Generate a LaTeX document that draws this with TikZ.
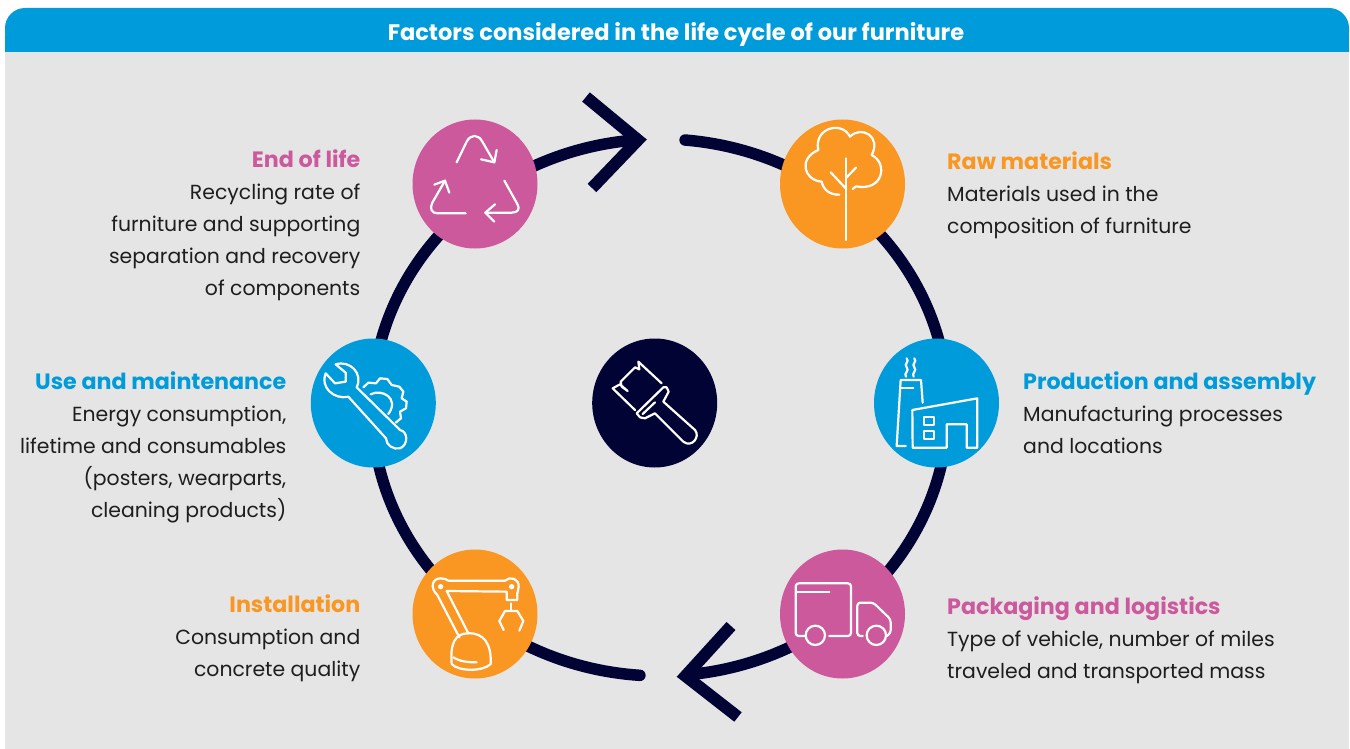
\documentclass[tikz,border=0pt]{standalone}
\usepackage{fontspec}
\setmainfont{Poppins}
\usetikzlibrary{shapes.geometric}
\definecolor{panelgray}{HTML}{E5E5E5}
\definecolor{titleblue}{HTML}{009BDA}
\definecolor{factororange}{HTML}{FA9722}
\definecolor{factorpink}{HTML}{CD599D}
\definecolor{ringnavy}{HTML}{000333}
\definecolor{bodytext}{HTML}{1E1E1E}
\newcommand{\factorhead}[2]{{\color{#1}\fontsize{22.2}{32}\selectfont\bfseries #2}}
\tikzset{
  stage/.style={ellipse,fill=#1,minimum width=125,minimum height=129,inner sep=0},
  ring/.style={ringnavy,line width=11.5},
  icon/.style={white,line width=2.2,line cap=round,line join=round},
  iconat/.style 2 args={shift={(#1,#2)},scale=1/3},
  factor/.style={inner sep=0,text=bodytext,anchor=north west,align=left,font=\fontsize{20.4}{32}\selectfont},
  factorr/.style={factor,anchor=north east,align=right}
}
\begin{document}
\begin{tikzpicture}[x=1pt,y=-1pt,line join=round]
    \useasboundingbox (0,0) rectangle (1350,749);
    \fill[panelgray] (5,30) rectangle (1349,749);
    \fill[titleblue,rounded corners=20] (5,52) -- (5,8) -- (1349,8) -- (1349,52) -- cycle;
    \fill[titleblue] (5,35) rectangle (1349,52);
    \node[text=white,font=\fontsize{22.5}{26}\selectfont\bfseries] (title) at (676,34) {Factors considered in the life cycle of our furniture};

    \draw[ring,line cap=round] plot[domain=-85:84,samples=120,smooth] ({660+288*cos(\x)},{407.5+268.5*sin(\x)});
    \draw[ring,line cap=round] plot[domain=94:265,samples=120,smooth] ({660+288*cos(\x)},{407.5+268.5*sin(\x)});
    \coordinate (topbarbup) at (586,97);
    \coordinate (toptip) at (638,140);
    \coordinate (topbarbdown) at (592,188);
    \coordinate (botbarbup) at (731,626);
    \coordinate (bottip) at (685.5,676);
    \coordinate (botbarbdown) at (738,717);
    \draw[ring,line width=12,line join=miter] (topbarbup) -- (toptip) -- (topbarbdown);
    \draw[ring,line width=12,line join=miter] (botbarbup) -- (bottip) -- (botbarbdown);

    \node[stage=factorpink] (endlife) at (475,184) {};
    \node[stage=factororange] (rawmat) at (842.5,184) {};
    \node[stage=titleblue] (prod) at (936.5,403) {};
    \node[stage=factorpink] (pack) at (842.5,614) {};
    \node[stage=factororange] (install) at (475,614) {};
    \node[stage=titleblue] (usemaint) at (373.3,403) {};
    \node[stage=ringnavy] (brush) at (654.7,403) {};

    \node[factor] (rawtext) at (947,152) {\factorhead{factororange}{Raw materials}\\Materials used in the\\composition of furniture};
    \node[factor] (prodtext) at (1023,372) {\factorhead{titleblue}{Production and assembly}\\Manufacturing processes\\and locations};
    \node[factor] (packtext) at (947,597) {\factorhead{factorpink}{Packaging and logistics}\\Type of vehicle, number of miles\\traveled and transported mass};
    \node[factorr] (endtext) at (360.5,150) {\factorhead{factorpink}{End of life}\\Recycling rate of\\furniture and supporting\\separation and recovery\\of components};
    \node[factorr] (usetext) at (286.5,372) {\factorhead{titleblue}{Use and maintenance}\\Energy consumption,\\lifetime and consumables\\(posters, wearparts,\\cleaning products)};
    \node[factorr] (insttext) at (360.5,595) {\factorhead{factororange}{Installation}\\Consumption and\\concrete quality};

    % recycling
    \begin{scope}[iconat={400}{80},icon]
        \draw (170,247) -- (200,185) .. controls (212,162) and (235,162) .. (247,185) -- (283,247);
        \draw (290,210) -- (283,247) -- (243,238);
        \draw (148,338) -- (135,302) -- (103,314);
        \draw (135,302) -- (97,368) .. controls (88,385) and (95,400) .. (112,400) -- (197,400);
        \draw (313,302) -- (352,372) .. controls (362,388) and (352,398) .. (335,398) -- (256,398);
        \draw (285,373) -- (256,398) -- (283,425);
    \end{scope}
    % tree
    \begin{scope}[iconat={770}{115},icon]
        \draw (229,130) -- (229,375);
        \draw (182,172) -- (229,222);
        \draw (258,158) -- (229,188);
        \draw (208,239) .. controls (180,240) and (160,225) .. (155,200)
              .. controls (100,195) and (85,130) .. (145,105)
              .. controls (130,40) and (215,15) .. (240,65)
              .. controls (275,30) and (335,65) .. (305,120)
              .. controls (355,145) and (340,230) .. (258,214) -- (248,222);
    \end{scope}
    % factory
    \begin{scope}[iconat={860}{330},icon]
        \draw (137,348) -- (110,348) -- (122,150) -- (183,150) -- (188,218);
        \draw (125,175) -- (160,175);
        \draw (140,85) .. controls (150,95) and (130,102) .. (140,112) .. controls (150,122) and (130,130) .. (138,140);
        \draw (163,85) .. controls (173,95) and (153,102) .. (163,112) .. controls (173,122) and (153,130) .. (161,140);
        \draw (157,240) -- (352,205) -- (352,353) -- (320,353) -- (320,283) -- (260,283) -- (260,353) -- (158,353) -- cycle;
        \draw (192,262) rectangle (222,284);
        \draw (192,302) rectangle (222,328);
    \end{scope}
    % truck
    \begin{scope}[iconat={670}{540},icon]
        \draw[rounded corners=3] (405,288) -- (377,288) -- (377,130) -- (543,130) -- (543,288) -- (478,288);
        \draw (380,157) -- (478,157);
        \draw (436,286) circle (29);
        \draw (619,286) circle (29);
        \draw[rounded corners=3] (578,288) -- (562,288) -- (562,188) -- (610,188) -- (662,238) -- (662,280) -- (650,288);
    \end{scope}
    % robot arm
    \begin{scope}[iconat={400}{540},icon]
        \draw (155,372) .. controls (150,310) and (165,280) .. (205,280) .. controls (250,278) and (275,310) .. (272,372) .. controls (250,395) and (175,395) .. (155,372) -- cycle;
        \draw (160,352) .. controls (180,365) and (205,367) .. (230,367);
        \draw (178,292) -- (112,165) .. controls (90,145) and (95,115) .. (122,115) .. controls (132,115) and (140,118) .. (145,122) -- (315,122) .. controls (330,108) and (357,115) .. (356,140) .. controls (356,150) and (352,157) .. (352,160) -- (352,180) -- (320,180) -- (320,155) -- (140,153) -- (205,280);
        \fill[white] (122,140) circle (8);
        \fill[white] (335,140) circle (8);
        \draw (333,190) -- (333,213);
        \draw (311,270) -- (298,243) -- (315,213) -- (352,213) -- (370,243) -- (358,272);
    \end{scope}
    % wrench and gear
    \begin{scope}[iconat={300}{330},icon]
        \draw (107,103) .. controls (150,90) and (190,130) .. (170,172) -- (300,300) .. controls (325,305) and (325,345) .. (300,355) .. controls (280,360) and (258,345) .. (258,325) -- (145,200) .. controls (100,210) and (60,170) .. (77,130) -- (105,160) -- (137,155) -- (137,128) -- cycle;
        \draw (190,172) -- (205,158) -- (228,160) -- (240,145) -- (262,147) -- (275,165) -- (298,170) -- (310,185) -- (305,205) -- (320,215) -- (318,235) -- (300,245) -- (303,265) -- (287,278);
        \draw (212,193) .. controls (245,175) and (300,205) .. (265,252);
    \end{scope}
    % brush
    \begin{scope}[iconat={580}{330},icon]
        \draw (245,160) -- (175,95) -- (178,118) -- (165,112) -- (122,155) -- (125,170) -- (143,183) -- (120,163) -- (98,175) -- (165,240);
        \draw (170,250) -- (250,172) -- (260,172) -- (266,185) -- (250,215) -- (345,300) .. controls (362,320) and (335,355) .. (310,335) -- (225,250) -- (195,265) -- (180,262) -- cycle;
        \draw (188,252) -- (225,217);
    \end{scope}
\end{tikzpicture}
\end{document}
